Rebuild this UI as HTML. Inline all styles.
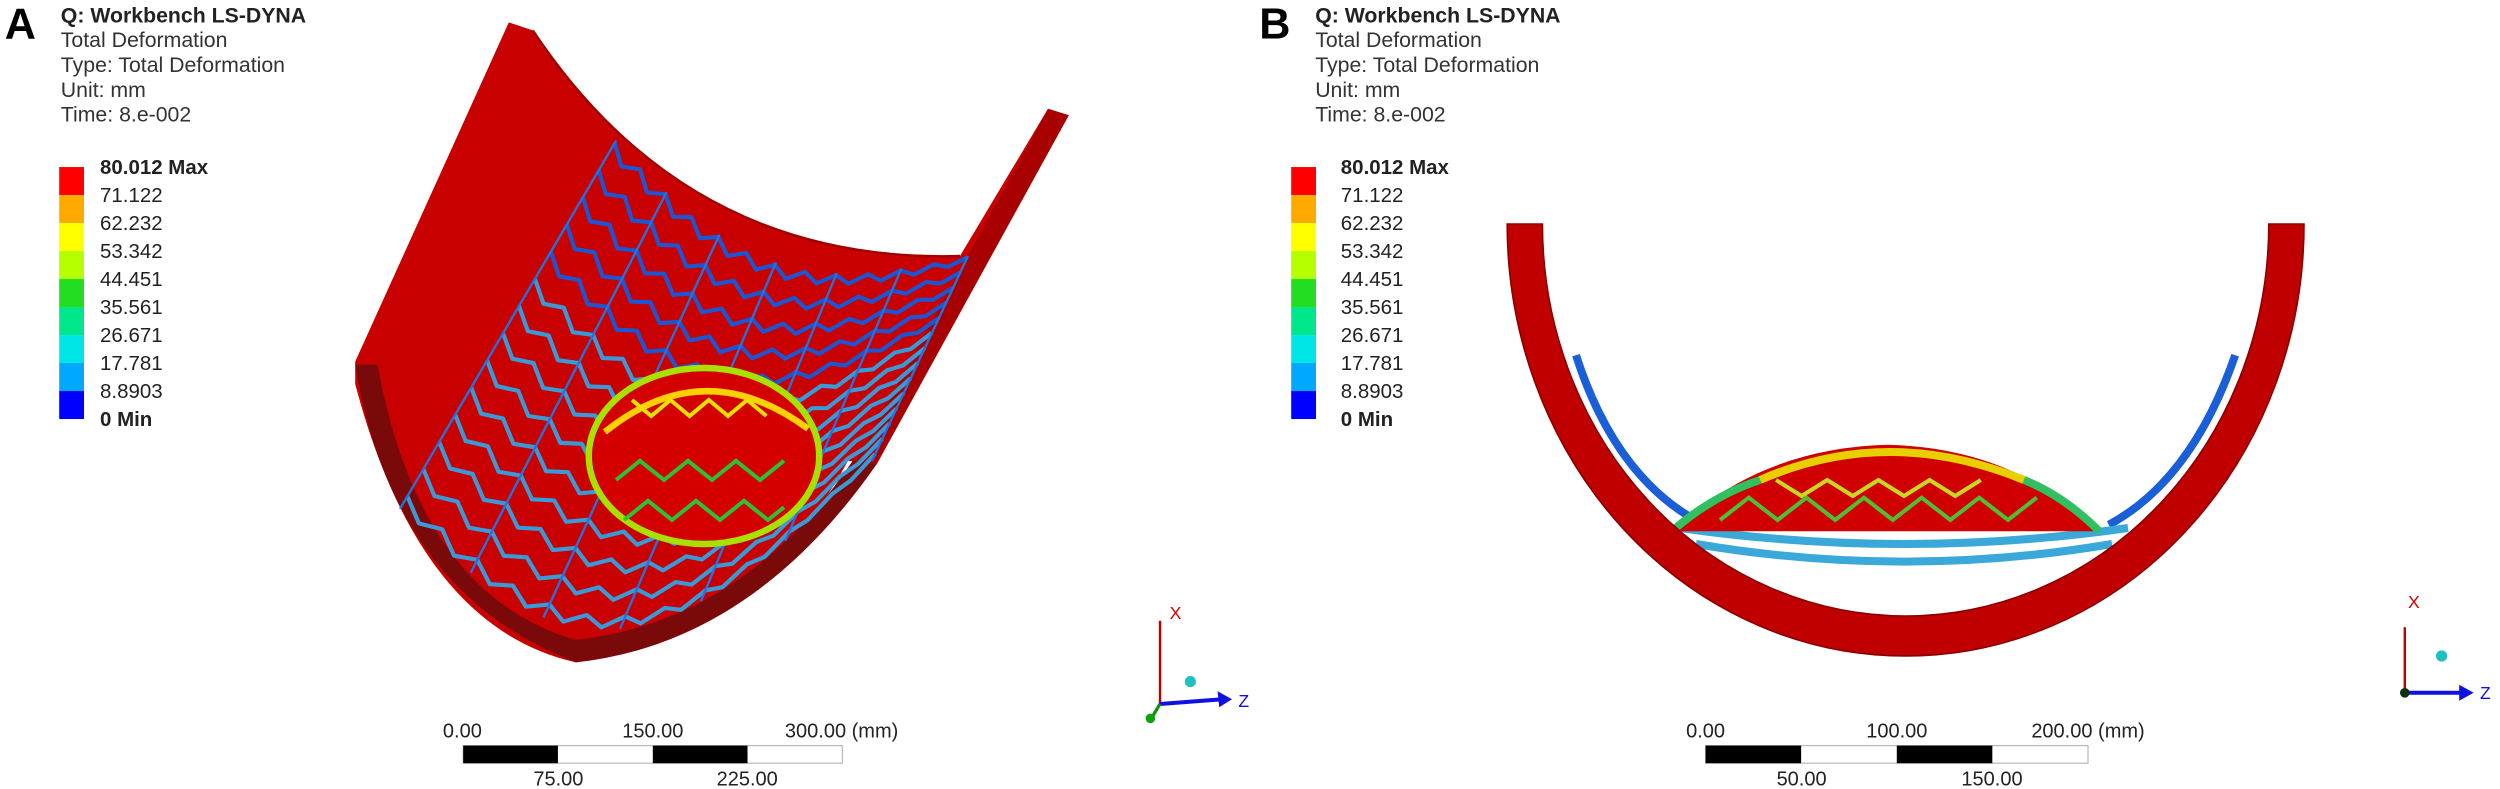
<!DOCTYPE html>
<html><head><meta charset="utf-8"><style>
html,body{margin:0;padding:0;background:#fff;}
svg{display:block;font-family:"Liberation Sans",sans-serif;}
</style></head><body>
<svg id="fig" width="2500" height="789" viewBox="0 0 1562.5 493.125" xmlns="http://www.w3.org/2000/svg">
<g id="panelA">
  <text x="3" y="24" font-size="27" font-weight="bold">A</text>
  <g font-size="13.3" fill="#333">
    <text x="38" y="14" font-weight="bold" fill="#222">Q: Workbench LS-DYNA</text>
    <text x="38" y="29.5">Total Deformation</text>
    <text x="38" y="45">Type: Total Deformation</text>
    <text x="38" y="60.5">Unit: mm</text>
    <text x="38" y="76">Time: 8.e-002</text>
  </g>
  <g id="legendA"></g>
  <path fill="#c80000" d="M318,14 L333,19 Q430,165 600,160 L655,68 L668,72 L548,290 L530,288 Q470,398 360,414 Q262,392 222,240 L222,226 Z"/>
  <path fill="none" stroke="#a00000" stroke-width="1.5" d="M333,19 Q430,165 600,160"/>
  <path fill="#a80000" d="M655,68 L668,72 L548,290 L535,288 Z"/>
  <path fill="#7a0a0a" d="M222,228 Q245,370 360,414 Q470,402 548,290 L533,288 Q465,388 360,400 Q262,372 236,228 Z"/>
  <g id="meshA"></g>
  <g>
    <ellipse cx="440" cy="285" rx="72" ry="55" fill="#d40000" stroke="#a8e000" stroke-width="4"/>
    <path d="M378,270 Q440,220 505,268" fill="none" stroke="#ffd000" stroke-width="4"/>
    <path d="M385,300 l15,-12 l15,12 l15,-12 l15,12 l15,-12 l15,12 l15,-12 M390,325 l15,-12 l15,12 l15,-12 l15,12 l15,-12 l15,12 l10,-8" fill="none" stroke="#30c030" stroke-width="2.5"/>
    <path d="M395,250 l12,10 l12,-10 l12,10 l12,-10 l12,10 l12,-10 l12,10" fill="none" stroke="#e8e000" stroke-width="2.5"/>
  </g>
  <g font-size="12.5" fill="#222">
    <rect x="289.5" y="466" width="237" height="11" fill="#fff" stroke="#bbb" stroke-width="0.8"/>
    <rect x="289.5" y="466" width="59.2" height="11" fill="#000"/>
    <rect x="408" y="466" width="59.2" height="11" fill="#000"/>
    <text x="289" y="461" text-anchor="middle">0.00</text>
    <text x="408" y="461" text-anchor="middle">150.00</text>
    <text x="526" y="461" text-anchor="middle">300.00 (mm)</text>
    <text x="349" y="491" text-anchor="middle">75.00</text>
    <text x="467" y="491" text-anchor="middle">225.00</text>
  </g>
  <g>
    <line x1="725" y1="440" x2="725" y2="388" stroke="#c00000" stroke-width="1.5"/>
    <text x="731" y="387" font-size="11" fill="#d00000">X</text>
    <line x1="725" y1="440" x2="764" y2="437" stroke="#1010e0" stroke-width="2.5"/>
    <polygon points="770,437 761,432 762,442" fill="#1010e0"/>
    <text x="774" y="442" font-size="11" fill="#1010e0">Z</text>
    <line x1="725" y1="440" x2="719" y2="450" stroke="#109010" stroke-width="2"/>
    <circle cx="719" cy="449" r="3" fill="#10a010"/>
    <circle cx="744" cy="426" r="3.5" fill="#20c0c0"/>
  </g>
</g>
<g id="panelB">
  <text x="787" y="24" font-size="27" font-weight="bold">B</text>
  <g font-size="13.3" fill="#333">
    <text x="822" y="14" font-weight="bold" fill="#222">Q: Workbench LS-DYNA</text>
    <text x="822" y="29.5">Total Deformation</text>
    <text x="822" y="45">Type: Total Deformation</text>
    <text x="822" y="60.5">Unit: mm</text>
    <text x="822" y="76">Time: 8.e-002</text>
  </g>
  <g id="legendB"></g>
  <path d="M985,222 Q1010,300 1065,328 M1397,222 Q1370,300 1318,328" fill="none" stroke="#1a5fd8" stroke-width="5"/>
  <path d="M1050,330 Q1190,350 1330,330 M1060,340 Q1190,362 1320,340" fill="none" stroke="#3aa8d8" stroke-width="5"/>
  <g>
    <path d="M1045,332 Q1100,280 1180,278 Q1260,280 1312,332 Z" fill="#d00000"/>
    <path d="M1100,300 Q1180,265 1265,300" fill="none" stroke="#e8d000" stroke-width="5"/>
    <path d="M1045,332 Q1070,310 1100,300 M1312,332 Q1290,310 1265,300" fill="none" stroke="#30c060" stroke-width="5"/>
    <path d="M1075,325 l18,-14 l18,14 l18,-14 l18,14 l18,-14 l18,14 l18,-14 l18,14 l18,-14 l18,14 l18,-14" fill="none" stroke="#50c030" stroke-width="2.5"/>
    <path d="M1110,300 l16,10 l16,-10 l16,10 l16,-10 l16,10 l16,-10 l16,10 l16,-10" fill="none" stroke="#c8d820" stroke-width="2.5"/>
  </g>
  <path fill="#c00000" stroke="#8a0000" stroke-width="1" d="M942,140 A249,270 0 0 0 1440,140 L1418,140 A227,245 0 0 1 964,140 Z"/>
  <g font-size="12.5" fill="#222">
    <rect x="1066" y="466" width="239" height="11" fill="#fff" stroke="#bbb" stroke-width="0.8"/>
    <rect x="1066" y="466" width="59.7" height="11" fill="#000"/>
    <rect x="1185.5" y="466" width="59.7" height="11" fill="#000"/>
    <text x="1066" y="461" text-anchor="middle">0.00</text>
    <text x="1185.5" y="461" text-anchor="middle">100.00</text>
    <text x="1305" y="461" text-anchor="middle">200.00 (mm)</text>
    <text x="1126" y="491" text-anchor="middle">50.00</text>
    <text x="1245" y="491" text-anchor="middle">150.00</text>
  </g>
  <g>
    <line x1="1503" y1="433" x2="1503" y2="392" stroke="#c00000" stroke-width="1.5"/>
    <text x="1505" y="380" font-size="11" fill="#d00000">X</text>
    <line x1="1503" y1="433" x2="1539" y2="433" stroke="#1010e0" stroke-width="2.5"/>
    <polygon points="1546,433 1537,428 1537,438" fill="#1010e0"/>
    <text x="1550" y="437" font-size="11" fill="#1010e0">Z</text>
    <circle cx="1503" cy="433" r="3" fill="#103010"/>
    <circle cx="1526" cy="410" r="3.5" fill="#20c0c0"/>
  </g>
</g>
</svg>
<script>
var legendLabels = ["80.012 Max","71.122","62.232","53.342","44.451","35.561","26.671","17.781","8.8903","0 Min"];
var legendColors = ["#ff0000","#ffaa00","#ffff00","#b4ff00","#22dd22","#00e68a","#00e6e6","#00a8ff","#0000ff"];
var NS = "http://www.w3.org/2000/svg";
function buildLegend(id, bx, lx){
  var g = document.getElementById(id);
  var top = 104.4, band = 17.5;
  for (var i=0;i<legendColors.length;i++){
    var r = document.createElementNS(NS,"rect");
    r.setAttribute("x",bx); r.setAttribute("y",top+i*band);
    r.setAttribute("width",15.5); r.setAttribute("height",band);
    r.setAttribute("fill",legendColors[i]);
    
    
    g.appendChild(r);
  }
  for (var j=0;j<legendLabels.length;j++){
    var t = document.createElementNS(NS,"text");
    t.setAttribute("x",lx); t.setAttribute("y",top+j*band+4.5);
    t.setAttribute("font-size","12.8");
    t.setAttribute("fill","#222");
    if (j===0||j===legendLabels.length-1) t.setAttribute("font-weight","bold");
    t.textContent = legendLabels[j];
    
    
    g.appendChild(t);
  }
}
buildLegend("legendA", 37, 62.5);
buildLegend("legendB", 807, 838);

(function(){
  var g = document.getElementById("meshA");
  function P(u,v){
    var lx=385+(250-385)*u, ly=88+(318-88)*u;
    var rx=605+(545-605)*u, ry=160+(288-160)*u;
    var sag=40+50*u;
    var s=Math.sin(Math.PI*v);
    return [lx+(rx-lx)*v - 10*s, ly+(ry-ly)*v + sag*s];
  }
  var rings=14, cols=12, d;
  for (var i=0;i<rings;i++){
    var u=i/(rings-1)*0.96+0.02;
    d="";
    for (var k=0;k<=cols*2;k++){
      var v=k/(cols*2);
      var du=(k%2?0.014:-0.014);
      var p=P(Math.min(1,Math.max(0,u+du)),v);
      d+=(k?"L":"M")+p[0].toFixed(1)+","+p[1].toFixed(1);
    }
    var path=document.createElementNS(NS,"path");
    path.setAttribute("d",d);
    path.setAttribute("fill","none");
    path.setAttribute("stroke", i<5?"#1e55d0":"#3a9ad8");
    path.setAttribute("stroke-width","2.6");
    path.setAttribute("stroke-linejoin","round");
    
    
    g.appendChild(path);
  }
  for (var c=0;c<=6;c++){
    var vv=c/6;
    var a=P(0,vv), b=P(1,vv), m=P(0.5,vv);
    var ln=document.createElementNS(NS,"path");
    ln.setAttribute("d","M"+a[0]+","+a[1]+"L"+m[0]+","+m[1]+"L"+b[0]+","+b[1]);
    ln.setAttribute("fill","none");
    ln.setAttribute("stroke","#2a70d8");
    ln.setAttribute("stroke-width","1.5");
    
    
    g.appendChild(ln);
  }
})();
</script>
</body></html>
